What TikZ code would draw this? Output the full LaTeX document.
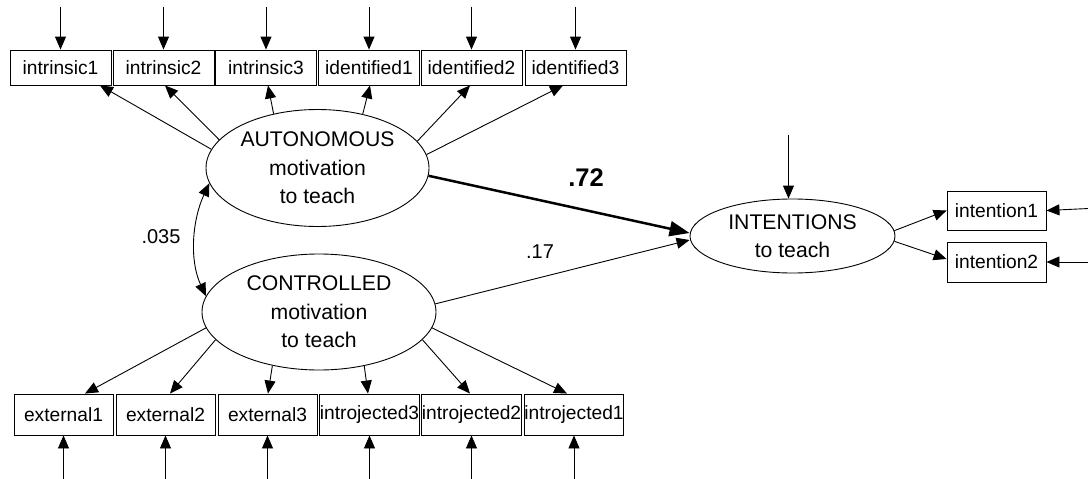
\documentclass[tikz,border=0pt]{standalone}
\usepackage{fontspec}
\setmainfont{Liberation Sans}
\usetikzlibrary{shapes.geometric,arrows.meta,calc}
\begin{document}
\begin{tikzpicture}[x=1pt,y=-1pt,
  obs/.style={draw,line width=0.9pt,minimum width=101pt,inner sep=0pt,font=\fontsize{19.2}{24}\selectfont},
  topbox/.style={obs,minimum height=35pt},
  botbox/.style={obs,minimum height=41pt,minimum width=99pt},
  intbox/.style={obs,minimum width=99pt,minimum height=39pt},
  lat/.style={draw,ellipse,line width=0.9pt,inner sep=0pt,align=center,font=\fontsize{21.2}{28.5}\selectfont},
  arr/.style={line width=0.9pt,-{Triangle[length=13pt,width=11pt]}},
  thickarr/.style={line width=2.5pt,-{Triangle[length=20pt,width=15pt]}},
  cov/.style={line width=0.9pt,{Triangle[length=13pt,width=11pt]}-{Triangle[length=13pt,width=11pt]}},
  lbl/.style={font=\fontsize{20}{24}\selectfont,inner sep=0pt}
]
\useasboundingbox (0,0) rectangle (1088,479);

% top observed
\node[topbox] (t1) at (60.5,67.5) {intrinsic1};
\node[topbox] (t2) at (163.5,67.5) {intrinsic2};
\node[topbox] (t3) at (266,67.5) {intrinsic3};
\node[topbox] (t4) at (369,67.5) {identified1};
\node[topbox] (t5) at (471.5,67.5) {identified2};
\node[topbox] (t6) at (575.5,67.5) {identified3};

% bottom observed
\node[botbox] (b1) at (63.5,414.5) {external1};
\node[botbox] (b2) at (165.5,414.5) {external2};
\node[botbox] (b3) at (267.5,414.5) {external3};
\node[botbox] (b4) at (369.5,414.5) {introjected3};
\node[botbox] (b5) at (471.5,414.5) {introjected2};
\node[botbox] (b6) at (574,414.5) {introjected1};

% intention boxes
\node[intbox] (n1) at (996.5,210.5) {intention1};
\node[intbox,minimum height=40pt] (n2) at (996.5,262) {intention2};

% latent
\node[lat,minimum width=223pt,minimum height=117pt] (aut) at (317.5,168) {AUTONOMOUS\\motivation\\to teach};
\node[lat,minimum width=234pt,minimum height=116pt] (con) at (319,312) {CONTROLLED\\motivation\\to teach};
\node[lat,minimum width=205pt,minimum height=74pt,font=\fontsize{21.2}{28}\selectfont] (int) at (792.5,236) {INTENTIONS\\to teach};

% error arrows top
\foreach \n in {t1,t2,t3,t4,t5,t6} {
  \draw[arr] ([yshift=43pt]\n.north) -- (\n.north);
}
% error arrows bottom
\foreach \n in {b1,b2,b3,b4,b5,b6} {
  \draw[arr] ([yshift=-44pt]\n.south) -- (\n.south);
}
% right error arrows
\draw[arr] ([xshift=42pt,yshift=2pt]n1.east) -- (n1.east);
\draw[arr] ([xshift=42pt]n2.east) -- (n2.east);
% disturbance on intentions
\draw[arr] ([xshift=-4pt,yshift=64pt]int.north) -- ([xshift=-4pt]int.north);

% loadings autonomous
\draw[arr] (aut.170.5) -- ([xshift=39.5pt]t1.south);
\draw[arr] (aut.164) -- ([xshift=1.5pt]t2.south);
\draw[arr] (aut.129.5) -- ([xshift=2pt]t3.south);
\draw[arr] (aut.50) -- ([xshift=1pt]t4.south);
\draw[arr] (aut.15.7) -- ([xshift=-1.5pt]t5.south);
\draw[arr] (aut.7.8) -- ([xshift=-12.5pt]t6.south);

% loadings controlled
\draw[arr] (con.188) -- ([xshift=21.5pt]b1.north);
\draw[arr] (con.195) -- ([xshift=4.5pt]b2.north);
\draw[arr] (con.229.5) -- ([xshift=0.5pt]b3.north);
\draw[arr] (con.310) -- ([xshift=-1.5pt]b4.north);
\draw[arr] (con.345) -- ([xshift=-1.5pt]b5.north);
\draw[arr] (con.352) -- ([xshift=-7pt]b6.north);

% intentions indicators
\draw[arr] (int.3.5) -- (n1.west);
\draw[arr] (int.-3.5) -- ([yshift=3pt]n2.west);

% structural paths
\draw[thickarr] (aut.-4) -- ([yshift=3pt]int.west);
\draw[arr] (con.4) -- ([yshift=-4pt]int.west);

% covariance
\draw[cov] (aut.188) .. controls +(115:40) and +(245:40) .. (con.172);

% labels
\node[lbl,font=\bfseries\fontsize{25.5}{30}\selectfont] (l72) at (586,178) {.72};
\node[lbl] (l17) at (540,252) {.17};
\node[lbl] (l035) at (161,237) {.035};
\end{tikzpicture}
\end{document}
